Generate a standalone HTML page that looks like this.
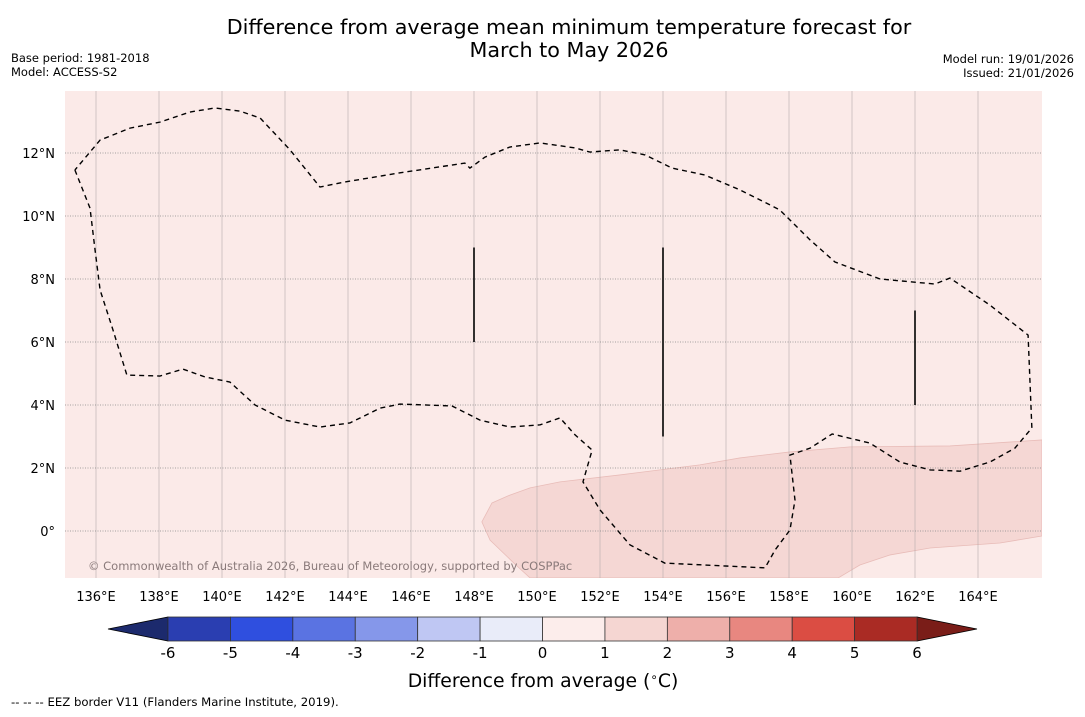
<!DOCTYPE html>
<html><head><meta charset="utf-8"><style>
body{margin:0;background:#fff;width:1085px;height:713px;overflow:hidden;font-family:"DejaVu Sans","Liberation Sans",sans-serif}
</style></head><body>
<svg id="s" width="1085" height="713" xmlns="http://www.w3.org/2000/svg">
<text x="569" y="34" font-size="20.7" text-anchor="middle">Difference from average mean minimum temperature forecast for</text>
<text x="569" y="57" font-size="20.7" text-anchor="middle">March to May 2026</text>
<text x="11" y="62" font-size="11.5">Base period: 1981-2018</text>
<text x="11" y="76" font-size="11.5">Model: ACCESS-S2</text>
<text x="1074" y="63" font-size="11.5" text-anchor="end">Model run: 19/01/2026</text>
<text x="1074" y="77" font-size="11.5" text-anchor="end">Issued: 21/01/2026</text>
<defs><clipPath id="cp"><rect x="65" y="91" width="977" height="487"/></clipPath></defs>
<rect x="65" y="91" width="977" height="487" fill="#fbeae8"/>
<g id="map" clip-path="url(#cp)"></g>
<g id="axes"></g>
<g id="cbar"></g>
<text x="543" y="687" font-size="18.8" text-anchor="middle">Difference from average (<tspan font-size="12" dy="-6">∘</tspan><tspan dy="6">C)</tspan></text>
<text x="11" y="706" font-size="11.7">--  --  -- EEZ border V11 (Flanders Marine Institute, 2019).</text>
</svg>
<script>
const lonTicks=[136,138,140,142,144,146,148,150,152,154,156,158,160,162,164];
const latTicks=[0,2,4,6,8,10,12];
const anomLon=[148.57,148.25,148.51,149.33,149.78,159.56,160.25,161.21,162.48,164.70,166.03,166.03,163.11,159.94,158.03,156.44,155.17,152.63,150.73,149.78,149.14];
const anomLat=[0.89,0.29,-0.29,-1.08,-1.49,-1.49,-1.08,-0.76,-0.54,-0.38,-0.16,2.89,2.70,2.67,2.51,2.32,2.10,1.78,1.56,1.37,1.14];
const eezLon=[135.33,135.81,135.97,136.13,136.54,136.98,138.03,138.76,139.46,140.25,141.05,142.00,143.11,144.06,145.02,145.65,147.30,148.19,149.14,150.10,150.73,151.21,151.75,151.46,152.00,152.95,154.06,157.24,157.56,158.03,158.19,158.03,158.67,159.37,160.57,161.52,162.48,163.43,164.38,165.17,165.71,165.59,164.38,163.11,162.63,160.89,159.46,158.67,157.71,157.40,156.44,155.33,154.29,153.43,152.63,151.68,151.21,150.10,149.14,148.35,147.87,147.71,145.65,143.90,143.11,142.16,141.21,140.57,139.78,138.98,138.03,137.08,136.13,135.33];
const eezLat=[11.46,10.25,8.92,7.65,6.38,4.95,4.92,5.14,4.89,4.73,4.00,3.52,3.30,3.43,3.90,4.03,3.97,3.52,3.30,3.37,3.59,3.05,2.57,1.56,0.67,-0.44,-1.02,-1.17,-0.60,0.03,0.98,2.41,2.63,3.08,2.79,2.19,1.94,1.90,2.19,2.63,3.27,6.22,7.17,8.03,7.84,8.00,8.54,9.24,10.19,10.35,10.83,11.30,11.52,11.94,12.10,12.03,12.16,12.32,12.19,11.87,11.52,11.68,11.37,11.08,10.92,12.10,13.11,13.33,13.43,13.30,12.98,12.79,12.41,11.46];
const segLon=[148,154,162];
const segLat0=[9,9,7];
const segLat1=[6,3,4];
const cbLevels=[-6,-5,-4,-3,-2,-1,0,1,2,3,4,5,6];
const cbColors=["#2a3eb1","#2f4fdf","#5a73e2","#8597ea","#bfc7f3","#e9ecf9","#fcedeb","#f5d6d2","#eeafaa","#e88780","#db4d43","#aa2b24"];
const NS="http://www.w3.org/2000/svg";
const X=lon=>96+(lon-136)*31.5, Y=lat=>531-lat*31.5, CX=v=>168+(v+6)*62.42;
function mk(t,a,p){const e=document.createElementNS(NS,t);for(const k in a)e.setAttribute(k,a[k]);p.appendChild(e);return e;}
const map=document.getElementById('map'),axes=document.getElementById('axes'),cb=document.getElementById('cbar');
const ap=mk('polygon',{points:anomLon.map((v,i)=>X(v)+','+Y(anomLat[i])).join(' '),fill:'#f5d7d4',stroke:'#e8bcb8','stroke-width':0.8},map);


lonTicks.forEach(v=>{const l=mk('line',{x1:X(v),x2:X(v),y1:91,y2:578,stroke:'#b4aaaa','stroke-width':0.6},map);


const t=mk('text',{x:X(v),y:601,'font-size':13,'text-anchor':'middle'},axes);t.textContent=v+'°E';

});
latTicks.forEach(v=>{const l=mk('line',{x1:65,x2:1042,y1:Y(v),y2:Y(v),stroke:'#888','stroke-width':0.7,'stroke-dasharray':'1,1.5'},map);


const t=mk('text',{x:55,y:Y(v)+5,'font-size':13,'text-anchor':'end'},axes);t.textContent=v===0?'0°':v+'°N';

});
const eez=mk('polyline',{points:eezLon.map((v,i)=>X(v)+','+Y(eezLat[i])).join(' '),fill:'none',stroke:'#000','stroke-width':1.4,'stroke-dasharray':'5,4'},map);


segLon.forEach((v,i)=>{const l=mk('line',{x1:X(v),x2:X(v),y1:Y(segLat0[i]),y2:Y(segLat1[i]),stroke:'#000','stroke-width':1.6},map);

});
const cr=mk('text',{x:88,y:570,'font-size':11.5,fill:'#8a7a7a'},map);cr.textContent='© Commonwealth of Australia 2026, Bureau of Meteorology, supported by COSPPac';


const a1=mk('polygon',{points:`${CX(-6)},617 ${CX(-6)},641 108,629`,fill:'#1c2a6d',stroke:'#000','stroke-width':0.8},cb);


const a2=mk('polygon',{points:`${CX(6)},617 ${CX(6)},641 977,629`,fill:'#7a1d18',stroke:'#000','stroke-width':0.8},cb);


cbColors.forEach((c,i)=>{const r=mk('rect',{x:CX(cbLevels[i]),y:617,width:CX(cbLevels[i+1])-CX(cbLevels[i]),height:24,fill:c,stroke:'#333','stroke-width':0.8},cb);

});
cbLevels.forEach(v=>{const t=mk('text',{x:CX(v),y:658,'font-size':15,'text-anchor':'middle'},cb);t.textContent=v;

});
</script>
</body></html>
